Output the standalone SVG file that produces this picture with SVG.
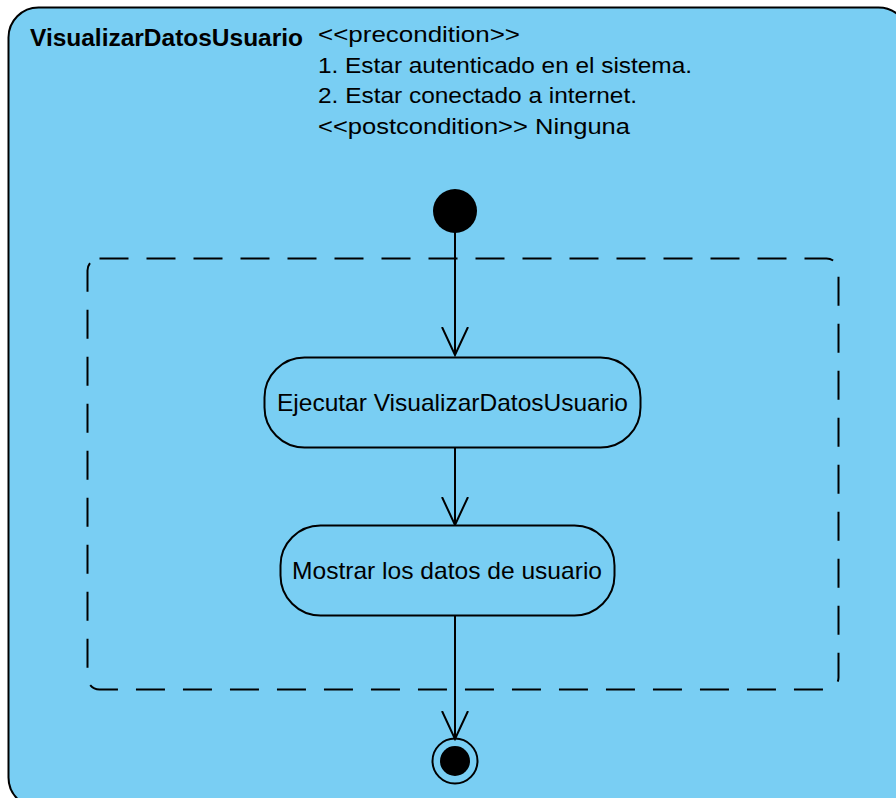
<svg xmlns="http://www.w3.org/2000/svg" width="896" height="798" viewBox="0 0 896 798">
  <style>
    .frame { fill: #79cef3; stroke: #000; stroke-width: 2; }
    .region { fill: none; stroke: #000; stroke-width: 2; stroke-dasharray: 29 18; }
    .action { fill: #79cef3; stroke: #000; stroke-width: 2; }
    .flow { fill: none; stroke: #000; stroke-width: 2; }
    .title { font-family: "Liberation Sans", Arial, sans-serif; font-weight: bold; font-size: 23px; fill: #000; }
    .note { font-family: "Liberation Sans", Arial, sans-serif; font-size: 22px; fill: #000; }
    .label { font-family: "Liberation Sans", Arial, sans-serif; font-size: 24px; fill: #000; text-anchor: middle; }
  </style>
  <defs>
    <marker id="open-arrow" markerWidth="30" markerHeight="30" refX="28" refY="15" orient="auto" markerUnits="userSpaceOnUse" viewBox="0 0 30 30">
      <path d="M0,2 L28,15 L0,28" fill="none" stroke="#000" stroke-width="2"/>
    </marker>
  </defs>

  <!-- activity frame -->
  <g id="activity">
    <rect class="frame" x="8.5" y="7.5" width="900" height="800" rx="30" ry="30"/>
    <text class="title" x="30" y="46" textLength="273" lengthAdjust="spacingAndGlyphs">VisualizarDatosUsuario</text>
    <text class="note" x="318" y="42" textLength="202" lengthAdjust="spacingAndGlyphs">&lt;&lt;precondition&gt;&gt;</text>
    <text class="note" x="318" y="73" textLength="374" lengthAdjust="spacingAndGlyphs">1. Estar autenticado en el sistema.</text>
    <text class="note" x="318" y="103" textLength="319" lengthAdjust="spacingAndGlyphs">2. Estar conectado a internet.</text>
    <text class="note" x="318" y="134" textLength="312" lengthAdjust="spacingAndGlyphs">&lt;&lt;postcondition&gt;&gt; Ninguna</text>
  </g>

  <!-- interruptible region -->
  <g id="region">
    <rect class="region" x="87.5" y="258.5" width="751" height="431" rx="12" ry="12"/>
  </g>

  <!-- connectors -->
  <g id="connectors">
    <line class="flow" x1="455" y1="225" x2="455" y2="355" marker-end="url(#open-arrow)"/>
    <line class="flow" x1="455" y1="447" x2="455" y2="525" marker-end="url(#open-arrow)"/>
    <line class="flow" x1="455" y1="616" x2="455" y2="739" marker-end="url(#open-arrow)"/>
  </g>

  <g id="initial">
    <circle cx="455" cy="211" r="22" fill="#000"/>
  </g>

  <g id="ejecutar">
    <rect class="action" x="264.5" y="357.5" width="376" height="90" rx="40" ry="40"/>
    <text class="label" x="452.5" y="411" textLength="351" lengthAdjust="spacingAndGlyphs">Ejecutar VisualizarDatosUsuario</text>
  </g>

  <g id="mostrar">
    <rect class="action" x="280.5" y="525.5" width="334" height="90" rx="40" ry="40"/>
    <text class="label" x="447" y="579" textLength="310" lengthAdjust="spacingAndGlyphs">Mostrar los datos de usuario</text>
  </g>

  <g id="final">
    <circle cx="455" cy="761" r="22.5" fill="none" stroke="#000" stroke-width="2"/>
    <circle cx="455" cy="761" r="15" fill="#000"/>
  </g>
</svg>
